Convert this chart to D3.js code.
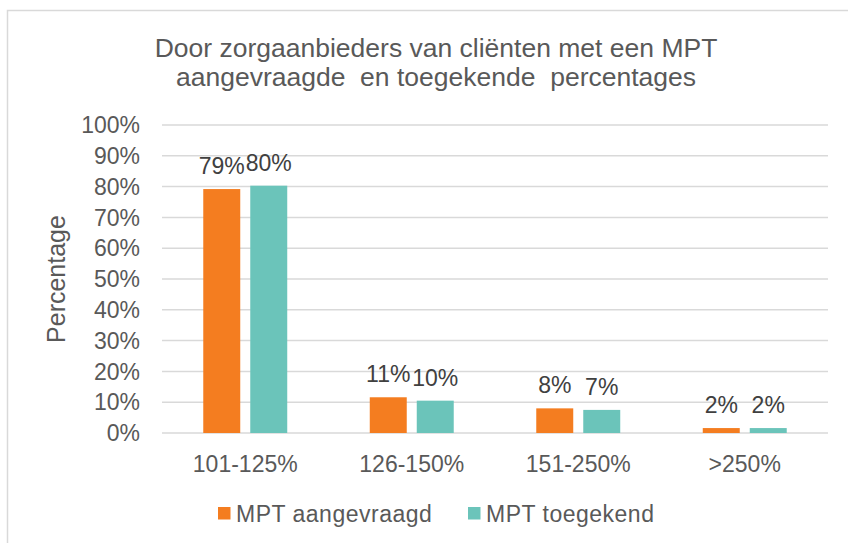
<!DOCTYPE html>
<html>
<head>
<meta charset="utf-8">
<script src="https://cdn.jsdelivr.net/npm/d3@7"></script>
<style>
  body { margin: 0; background: #fff; }
  text { font-family: "Liberation Sans", Arial, sans-serif; fill: #595959; }
</style>
</head>
<body>
<script>
const categories = ["101-125%", "126-150%", "151-250%", ">250%"];
const series = ["MPT aangevraagd", "MPT toegekend"];
const aangevraagd = [79.2, 11.6, 8.0, 1.6];
const toegekend = [80.3, 10.5, 7.5, 1.6];
const valueLabels = [
  ["79%", "11%", "8%", "2%"],
  ["80%", "10%", "7%", "2%"],
];
const yTicks = [0, 10, 20, 30, 40, 50, 60, 70, 80, 90, 100];
const colors = ["#f47d20", "#6bc4ba"];

const w = 848;
const h = 543;
const values = [aangevraagd, toegekend];

const svg = d3.select("body").append("svg").attr("width", w).attr("height", h);

// chart border
svg
  .append("rect")
  .attr("x", 7.5)
  .attr("y", 10.5)
  .attr("width", 900)
  .attr("height", 600)
  .attr("fill", "none")
  .attr("stroke", "#d9d9d9")
  .attr("stroke-width", 1.5);

const x0 = d3.scaleBand().domain(categories).range([162, 828]);
const x1 = d3
  .scaleBand()
  .domain(series)
  .range([0, x0.bandwidth()])
  .paddingInner(0.213)
  .paddingOuter(0.878);
const y = d3.scaleLinear().domain([0, 100]).range([433, 125]);

// gridlines
svg
  .append("g")
  .selectAll("line")
  .data(yTicks)
  .enter()
  .append("line")
  .attr("x1", 162)
  .attr("x2", 828)
  .attr("y1", (d) => y(d))
  .attr("y2", (d) => y(d))
  .attr("stroke", "#d9d9d9")
  .attr("stroke-width", 1.5);

// y tick labels
svg
  .append("g")
  .selectAll("text")
  .data(yTicks)
  .enter()
  .append("text")
  .attr("x", 140)
  .attr("y", (d) => y(d))
  .attr("dy", "0.36em")
  .attr("text-anchor", "end")
  .style("font-size", "23px")
  .text((d) => d + "%");

// x labels
svg
  .append("g")
  .selectAll("text")
  .data(categories)
  .enter()
  .append("text")
  .attr("x", (d) => x0(d) + x0.bandwidth() / 2)
  .attr("y", 472)
  .attr("text-anchor", "middle")
  .style("font-size", "23px")
  .text((d) => d);

// bars
series.forEach((s, si) => {
  const g = svg.append("g");
  g.selectAll("rect")
    .data(values[si])
    .enter()
    .append("rect")
    .attr("x", (d, i) => x0(categories[i]) + x1(s))
    .attr("y", (d) => y(d))
    .attr("width", x1.bandwidth())
    .attr("height", (d) => y(0) - y(d))
    .attr("fill", colors[si]);

  g.selectAll("text")
    .data(values[si])
    .enter()
    .append("text")
    .attr("x", (d, i) => x0(categories[i]) + x1(s) + x1.bandwidth() / 2)
    .attr("y", (d) => y(d) - 15)
    .attr("text-anchor", "middle")
    .style("font-size", "23px")
    .style("fill", "#404040")
    .text((d, i) => valueLabels[si][i]);
});

// title
const title = svg
  .append("text")
  .attr("x", 436)
  .attr("text-anchor", "middle")
  .style("font-size", "26.5px")
  .style("white-space", "pre");
title.append("tspan").attr("x", 436).attr("y", 57).text("Door zorgaanbieders van cliënten met een MPT");
title.append("tspan").attr("x", 436).attr("y", 86).text("aangevraagde  en toegekende  percentages");

// y axis title
svg
  .append("text")
  .attr("transform", "translate(65,279) rotate(-90)")
  .attr("text-anchor", "middle")
  .style("font-size", "25px")
  .text("Percentage");

// legend
const legendX = [218, 468];
series.forEach((s, si) => {
  svg
    .append("rect")
    .attr("x", legendX[si])
    .attr("y", 507)
    .attr("width", 12.5)
    .attr("height", 12.5)
    .attr("fill", colors[si]);
  svg
    .append("text")
    .attr("x", legendX[si] + 18)
    .attr("y", 522)
    .style("font-size", "23px")
    .style("letter-spacing", "0.5px")
    .text(s);
});
</script>
</body>
</html>
